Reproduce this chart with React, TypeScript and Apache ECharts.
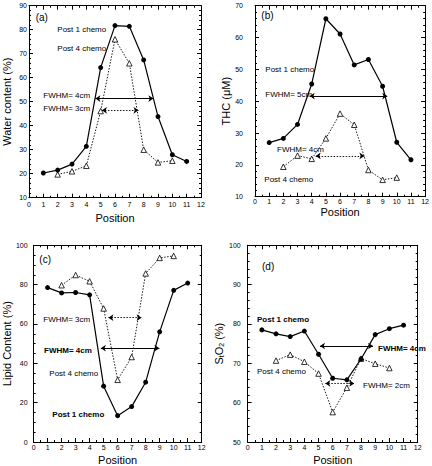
import React, { useEffect, useRef } from "react";
import * as echarts from "echarts";

const FONT = "Liberation Sans, Arial, sans-serif";

const positionsPost1 = [1, 2, 3, 4, 5, 6, 7, 8, 9, 10, 11];
const positionsPost4 = [2, 3, 4, 5, 6, 7, 8, 9, 10];

const waterPost1 = [20.3, 21.5, 24, 31.4, 64.2, 81.7, 81.4, 67.4, 43.8, 27.9, 25.1];
const waterPost4 = [19.7, 21, 23.3, 46.1, 76, 66, 30, 24.7, 25.4];
const thcPost1 = [27, 28.3, 32.7, 45.4, 65.9, 61.1, 51.4, 53.1, 44.7, 27.1, 21.6];
const thcPost4 = [19.4, 22.9, 21.9, 28.3, 36.1, 32.6, 18.4, 15.3, 16];
const lipidPost1 = [78.5, 75.8, 76, 74.8, 28.4, 13.4, 18, 30.4, 56, 77.1, 80.8];
const lipidPost4 = [79.7, 84.9, 81.7, 67.9, 31.6, 43.2, 85.7, 93.6, 94.6];
const so2Post1 = [78.5, 77.5, 76.8, 78.2, 72.3, 66.2, 65.8, 71.1, 77.3, 78.8, 79.7];
const so2Post4 = [70.7, 72.2, 70.4, 67.4, 57.6, 63.8, 71.2, 69.9, 68.8];

// FWHM arrows: [from, to, level]
const waterFwhm1 = [4.63, 8.68, 51.3];
const waterFwhm4 = [5.09, 7.64, 46.4];
const thcFwhm1 = [3.86, 9.33, 41.6];
const thcFwhm4 = [4.28, 7.72, 22.8];
const lipidFwhm1 = [4.8, 8.98, 47.7];
const lipidFwhm4 = [5.34, 7.71, 63.2];
const so2Fwhm1 = [5.1, 8.85, 74.4];
const so2Fwhm4 = [5.48, 7.52, 64.9];

const xTickRange = [0, 12, 1];

type Label = { text: string; x: number; y: number; bold?: boolean; size?: number };

type PanelCfg = {
  grid: { left: number; top: number; width: number; height: number };
  yRange: number[];
  yName: string;
  yNameGap: number;
  yNameRich?: any;
  yLabelMargin: number;
  xLabelMargin: number;
  xNameGap: number;
  post1: number[];
  post4: number[];
  fwhm1: number[];
  fwhm4: number[];
  labels: Label[];
};

const panels: PanelCfg[] = [
  {
    grid: { left: 28.3, top: 5.7, width: 172.7, height: 192 },
    yRange: [10, 90, 10],
    yName: "Water content (%)",
    yNameGap: 17,
    yLabelMargin: 2,
    xLabelMargin: 3,
    xNameGap: 15,
    post1: waterPost1,
    post4: waterPost4,
    fwhm1: waterFwhm1,
    fwhm4: waterFwhm4,
    labels: [
      { text: "(a)", x: 35.7, y: 17.3, size: 10 },
      { text: "Post 1 chemo", x: 57.3, y: 29.3 },
      { text: "Post 4 chemo", x: 57.3, y: 48.3 },
      { text: "FWHM= 4cm", x: 43.3, y: 95 },
      { text: "FWHM= 3cm", x: 43.3, y: 108.3 },
    ],
  },
  {
    grid: { left: 255, top: 5.7, width: 171, height: 191 },
    yRange: [10, 70, 10],
    yName: "THC (\u03bcM)",
    yNameGap: 18,
    yLabelMargin: 12,
    xLabelMargin: 1.5,
    xNameGap: 10,
    post1: thcPost1,
    post4: thcPost4,
    fwhm1: thcFwhm1,
    fwhm4: thcFwhm4,
    labels: [
      { text: "(b)", x: 261.3, y: 15.7, size: 10 },
      { text: "Post 1 chemo", x: 265.3, y: 69 },
      { text: "FWHM= 5cm", x: 265.3, y: 94 },
      { text: "FWHM= 4cm", x: 277, y: 149.3 },
      { text: "Post 4 chemo", x: 264.3, y: 179.3 },
    ],
  },
  {
    grid: { left: 29.3, top: 245.3, width: 172.4, height: 198.4 },
    yRange: [0, 100, 20],
    yName: "Lipid Content (%)",
    yNameGap: 17.5,
    yLabelMargin: 6,
    xLabelMargin: 1.5,
    xNameGap: 12,
    post1: lipidPost1,
    post4: lipidPost4,
    fwhm1: lipidFwhm1,
    fwhm4: lipidFwhm4,
    labels: [
      { text: "(c)", x: 39.3, y: 259.7, size: 10 },
      { text: "FWHM= 3cm", x: 43.3, y: 319 },
      { text: "FWHM= 4cm", x: 44, y: 350.3, bold: true },
      { text: "Post 4 chemo", x: 49.3, y: 373.3 },
      { text: "Post 1 chemo", x: 52.3, y: 414, bold: true },
    ],
  },
  {
    grid: { left: 247.7, top: 245.3, width: 170, height: 197 },
    yRange: [50, 100, 10],
    yName: "{m|S}{s|t}{m|O}{s|2}{m| (%)}",
    yNameRich: {
      m: { fontSize: 11, fontFamily: FONT, color: "#000", lineHeight: 12, verticalAlign: "top" },
      s: { fontSize: 7, fontFamily: FONT, color: "#000", lineHeight: 7, verticalAlign: "bottom" },
    },
    yNameGap: 19,
    yLabelMargin: 7,
    xLabelMargin: 1.5,
    xNameGap: 12,
    post1: so2Post1,
    post4: so2Post4,
    fwhm1: so2Fwhm1,
    fwhm4: so2Fwhm4,
    labels: [
      { text: "(d)", x: 262, y: 266, size: 10 },
      { text: "Post 1 chemo", x: 257, y: 319, bold: true },
      { text: "FWHM= 4cm", x: 378, y: 348, bold: true },
      { text: "Post 4 chemo", x: 257, y: 371 },
      { text: "FWHM= 2cm", x: 363, y: 385 },
    ],
  },
];

function buildOption() {
  const grids: any[] = [];
  const xAxes: any[] = [];
  const yAxes: any[] = [];
  const series: any[] = [];
  const graphics: any[] = [];

  const axisLine = { show: true, onZero: false, lineStyle: { color: "#000", width: 1 } };
  const tick = { show: true, inside: true, length: 4, lineStyle: { color: "#000", width: 1 } };

  panels.forEach((p, i) => {
    grids.push({ ...p.grid, containLabel: false, show: false });
    const [xmin, xmax, xint] = xTickRange;
    const [ymin, ymax, yint] = p.yRange;
    const xBase = {
      type: "value",
      gridIndex: i,
      min: xmin,
      max: xmax,
      interval: xint,
      axisLine,
      axisTick: tick,
      minorTick: { show: true, splitNumber: 2, length: 2, lineStyle: { color: "#000", width: 1 } },
      splitLine: { show: false },
      minorSplitLine: { show: false },
    };
    const yBase = {
      type: "value",
      gridIndex: i,
      min: ymin,
      max: ymax,
      interval: yint,
      axisLine,
      axisTick: tick,
      minorTick: { show: true, splitNumber: yint === 20 ? 4 : 5, length: 2, lineStyle: { color: "#000", width: 1 } },
      splitLine: { show: false },
      minorSplitLine: { show: false },
    };
    xAxes.push({
      ...xBase,
      position: "bottom",
      name: "Position",
      nameLocation: "middle",
      nameGap: p.xNameGap,
      nameTextStyle: { fontSize: 11, fontFamily: FONT, color: "#000" },
      axisLabel: { fontSize: 7, fontFamily: FONT, color: "#000", margin: p.xLabelMargin },
    });
    xAxes.push({ ...xBase, position: "top", axisLabel: { show: false } });
    yAxes.push({
      ...yBase,
      position: "left",
      name: p.yName,
      nameLocation: "middle",
      nameRotate: 90,
      nameGap: p.yNameGap,
      nameTextStyle: p.yNameRich
        ? { rich: p.yNameRich }
        : { fontSize: 11, fontFamily: FONT, color: "#000" },
      axisLabel: { fontSize: 7, fontFamily: FONT, color: "#000", margin: p.yLabelMargin },
    });
    yAxes.push({ ...yBase, position: "right", axisLabel: { show: false } });

    const xi = i * 2;
    const yi = i * 2;
    series.push({
      type: "line",
      name: "Post 4 chemo",
      xAxisIndex: xi,
      yAxisIndex: yi,
      data: positionsPost4.map((x, k) => [x, p.post4[k]]),
      symbol: "triangle",
      symbolSize: 5.5,
      itemStyle: { color: "#fff", borderColor: "#000", borderWidth: 0.8 },
      lineStyle: { color: "#000", width: 0.9, type: [1.5, 1.5] },
      z: 2,
    });
    series.push({
      type: "line",
      name: "Post 1 chemo",
      xAxisIndex: xi,
      yAxisIndex: yi,
      data: positionsPost1.map((x, k) => [x, p.post1[k]]),
      symbol: "circle",
      symbolSize: 5,
      itemStyle: { color: "#000" },
      lineStyle: { color: "#000", width: 1.2 },
      z: 3,
    });
    [
      { f: p.fwhm1, solid: true },
      { f: p.fwhm4, solid: false },
    ].forEach(({ f, solid }) => {
      series.push({
        type: "lines",
        coordinateSystem: "cartesian2d",
        xAxisIndex: xi,
        yAxisIndex: yi,
        symbol: ["arrow", "arrow"],
        symbolSize: 5,
        silent: true,
        lineStyle: {
          color: "#000",
          width: solid ? 1.2 : 0.9,
          type: solid ? "solid" : [1.5, 1.5],
          opacity: 1,
        },
        data: [{ coords: [[f[0], f[2]], [f[1], f[2]]] }],
        z: 4,
      });
    });

    p.labels.forEach((l) => {
      graphics.push({
        type: "text",
        x: l.x,
        y: l.y,
        style: {
          text: l.text,
          fontSize: l.size || 8,
          fontFamily: FONT,
          fontWeight: l.bold ? "bold" : "normal",
          fill: "#000",
          align: "left",
          verticalAlign: "middle",
        },
      });
    });
  });

  return {
    animation: false,
    backgroundColor: "#fff",
    grid: grids,
    xAxis: xAxes,
    yAxis: yAxes,
    series,
    graphic: graphics,
  };
}

export default function App() {
  const ref = useRef<HTMLDivElement>(null);
  useEffect(() => {
    if (!ref.current) return;
    const chart = echarts.init(ref.current, null, { renderer: "svg" });
    chart.setOption(buildOption() as any);
    return () => chart.dispose();
  }, []);
  return (
    <div
      ref={ref}
      style={{ position: "absolute", left: 0, top: 0, width: 432, height: 466, background: "#fff" }}
    />
  );
}
